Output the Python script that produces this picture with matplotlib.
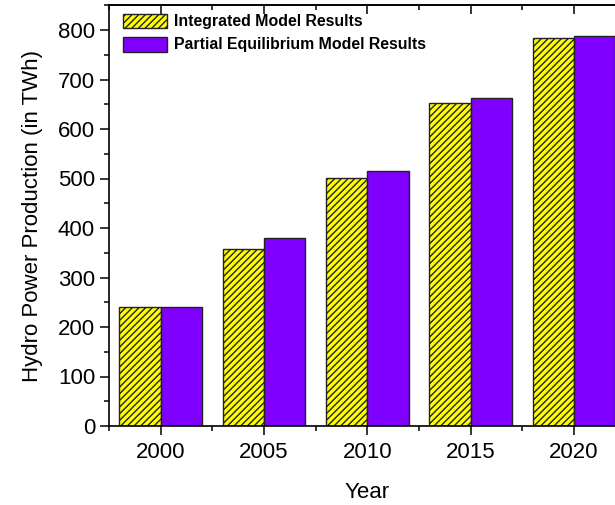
import matplotlib
matplotlib.use("Agg")
import matplotlib.pyplot as plt
from matplotlib.ticker import MultipleLocator
import numpy as np

years = [2000, 2005, 2010, 2015, 2020]
integrated = [240, 357, 502, 652, 784]
partial = [240, 380, 516, 663, 787]
labels = ["Integrated Model Results", "Partial Equilibrium Model Results"]

plt.rcParams['font.family'] = ['Liberation Sans', 'DejaVu Sans']
plt.rcParams['hatch.linewidth'] = 1.0
plt.rcParams['hatch.color'] = 'black'

fig = plt.figure(figsize=(6.15, 5.05), dpi=100)
ax = fig.add_axes([109/615, 1-426/505, (625.5-109)/615, (426-5.25)/505])

x = np.array(years, dtype=float)
w = 2.0
ax.bar(x - w/2, integrated, width=w, color='#FFFF00', edgecolor='#222222',
       linewidth=1.0, hatch='/////', label=labels[0])
ax.bar(x + w/2, partial, width=w, color='#8000FF', edgecolor='#222222',
       linewidth=1.0, label=labels[1])

ax.set_xlim(1997.5, 2022.5)
ax.set_ylim(0, 850)
ax.set_xticks(years)
ax.xaxis.set_minor_locator(MultipleLocator(2.5))
ax.yaxis.set_major_locator(MultipleLocator(100))
ax.yaxis.set_minor_locator(MultipleLocator(50))

for s in ax.spines.values():
    s.set_linewidth(1.2)

ax.tick_params(axis='both', which='major', direction='out', length=6.5, width=1.1, labelsize=16)
ax.tick_params(axis='both', which='minor', direction='out', length=3.8, width=1.1)
sec = ax.secondary_xaxis('top')
sec.set_xticks(years)
sec.xaxis.set_minor_locator(MultipleLocator(2.5))
sec.tick_params(axis='x', which='major', direction='in', length=6.5, width=1.1, labeltop=False)
sec.tick_params(axis='x', which='minor', direction='in', length=3.8, width=1.1)
sec.spines['top'].set_linewidth(1.2)
ax.tick_params(axis='x', which='both', top=False)
ax.tick_params(axis='x', which='major', pad=5)

ax.set_xlabel('Year', fontsize=16, labelpad=14)
ax.set_ylabel('Hydro Power Production (in TWh)', fontsize=16, labelpad=11)

leg = ax.legend(loc='upper left', bbox_to_anchor=(123/615, 1-13.5/505),
                bbox_transform=fig.transFigure, frameon=False,
                prop={'weight': 'bold', 'size': 11.4},
                handlelength=2.8, handleheight=1.08, handletextpad=0.45,
                labelspacing=0.45, borderpad=0, borderaxespad=0)

fig.savefig('out.png', dpi=100)
